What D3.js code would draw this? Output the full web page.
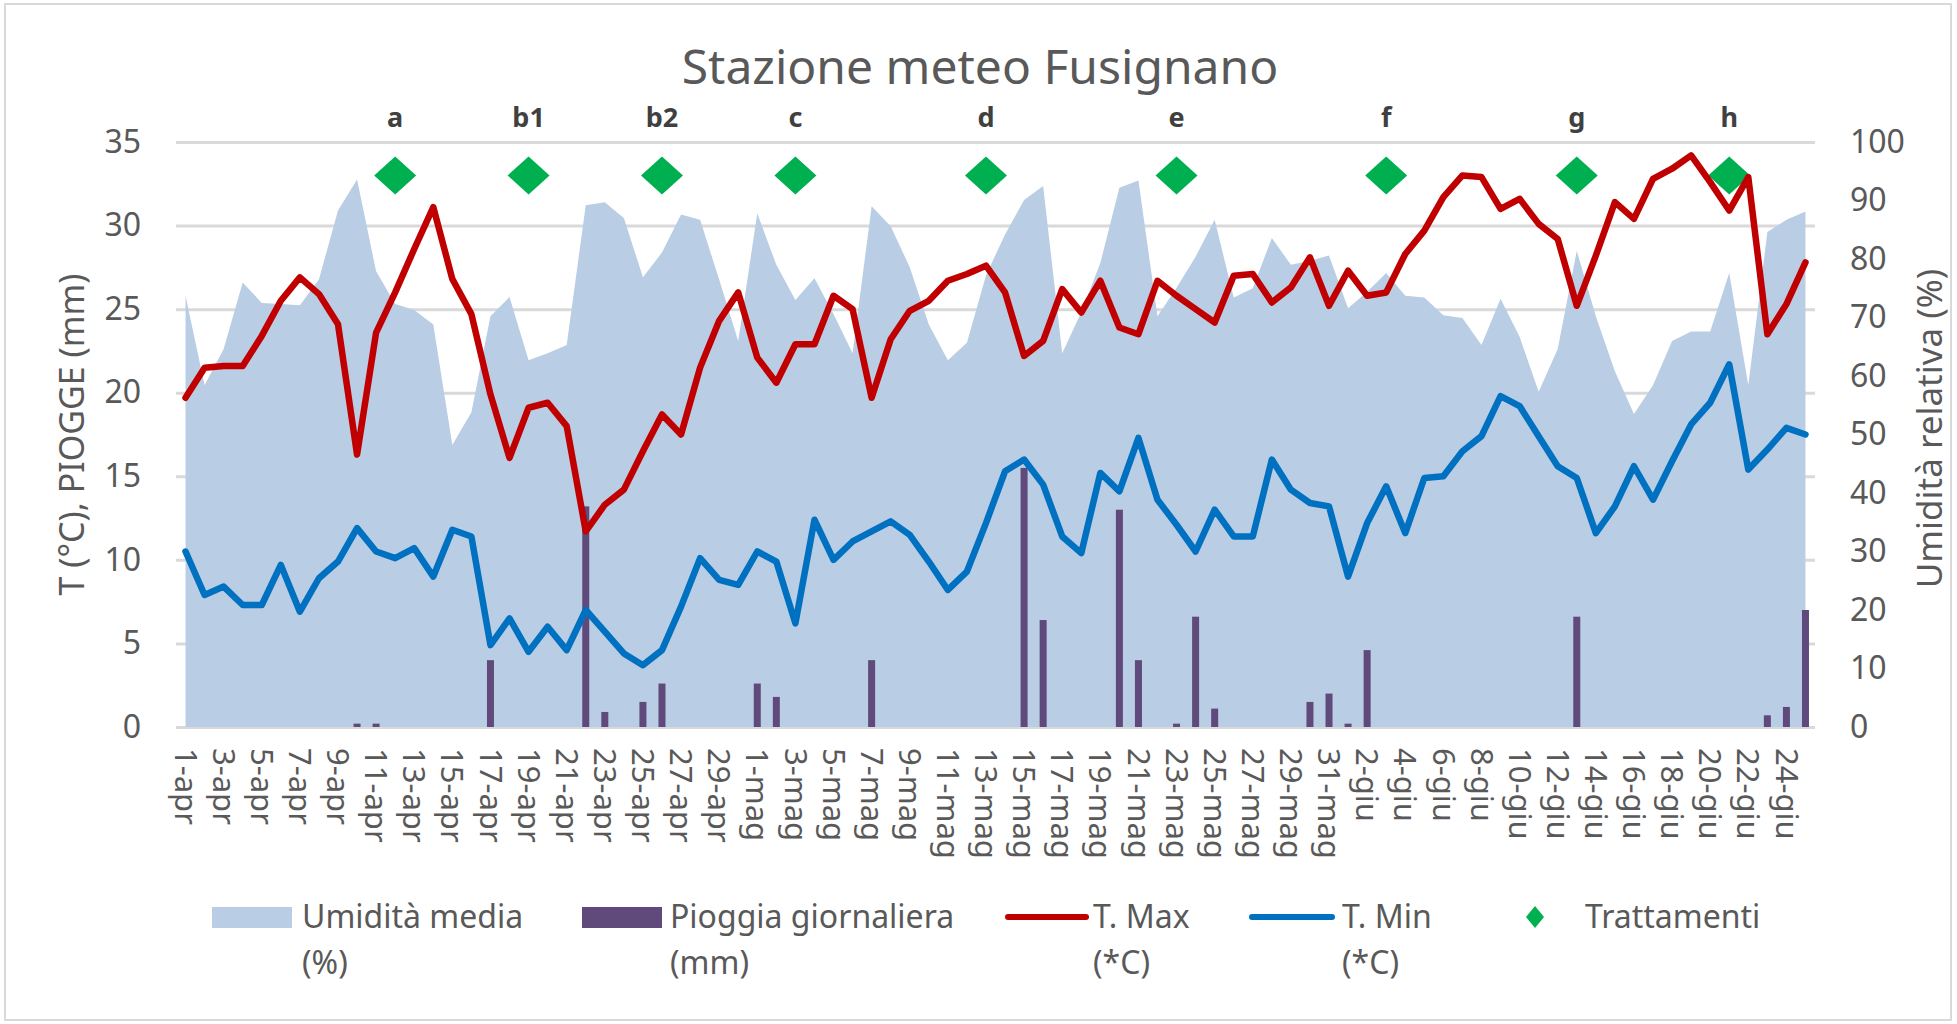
<!DOCTYPE html>
<html>
<head>
<meta charset="utf-8">
<script src="https://cdn.jsdelivr.net/npm/d3@7"></script>
<style>
  body { margin: 0; background: #fff; }
  svg text { font-family: "Noto Sans", sans-serif; }
</style>
</head>
<body>
<svg id="chart" width="1957" height="1024"></svg>
<script>
// categories (days)
const days = [
  '1-apr','2-apr','3-apr','4-apr','5-apr','6-apr','7-apr','8-apr','9-apr','10-apr',
  '11-apr','12-apr','13-apr','14-apr','15-apr','16-apr','17-apr','18-apr','19-apr','20-apr',
  '21-apr','22-apr','23-apr','24-apr','25-apr','26-apr','27-apr','28-apr','29-apr','30-apr',
  '1-mag','2-mag','3-mag','4-mag','5-mag','6-mag','7-mag','8-mag','9-mag','10-mag',
  '11-mag','12-mag','13-mag','14-mag','15-mag','16-mag','17-mag','18-mag','19-mag','20-mag',
  '21-mag','22-mag','23-mag','24-mag','25-mag','26-mag','27-mag','28-mag','29-mag','30-mag',
  '31-mag','1-giu','2-giu','3-giu','4-giu','5-giu','6-giu','7-giu','8-giu','9-giu',
  '10-giu','11-giu','12-giu','13-giu','14-giu','15-giu','16-giu','17-giu','18-giu','19-giu',
  '20-giu','21-giu','22-giu','23-giu','24-giu','25-giu'
];

const tMax = [
  19.7, 21.5, 21.6, 21.6, 23.4, 25.5, 26.9, 25.9, 24.1, 16.3,
  23.6, 26.0, 28.6, 31.1, 26.8, 24.7, 19.9, 16.1, 19.1, 19.4,
  18.0, 11.7, 13.3, 14.2, 16.5, 18.7, 17.5, 21.5, 24.3, 26.0,
  22.1, 20.6, 22.9, 22.9, 25.8, 25.0, 19.7, 23.2, 24.9, 25.5,
  26.7, 27.1, 27.6, 26.0, 22.2, 23.1, 26.2, 24.8, 26.7, 23.9,
  23.5, 26.7, 25.8, 25.0, 24.2, 27.0, 27.1, 25.4, 26.3, 28.1,
  25.2, 27.3, 25.8, 26.0, 28.3, 29.7, 31.7, 33.0, 32.9, 31.0,
  31.6, 30.1, 29.2, 25.2, 28.2, 31.4, 30.4, 32.8, 33.4, 34.2,
  32.6, 30.9, 32.9, 23.5, 25.3, 27.8
];

const tMin = [
  10.5, 7.9, 8.4, 7.3, 7.3, 9.7, 6.9, 8.9, 9.9, 11.9,
  10.5, 10.1, 10.7, 9.0, 11.8, 11.4, 4.9, 6.5, 4.5, 6.0,
  4.6, 7.0, 5.7, 4.4, 3.7, 4.6, 7.2, 10.1, 8.8, 8.5,
  10.5, 9.9, 6.2, 12.4, 10.0, 11.1, 11.7, 12.3, 11.5, 9.9,
  8.2, 9.3, 12.2, 15.3, 16.0, 14.5, 11.4, 10.4, 15.2, 14.1,
  17.3, 13.6, 12.1, 10.5, 13.0, 11.4, 11.4, 16.0, 14.2, 13.4,
  13.2, 9.0, 12.2, 14.4, 11.6, 14.9, 15.0, 16.5, 17.4, 19.8,
  19.2, 17.4, 15.6, 14.9, 11.6, 13.2, 15.6, 13.6, 15.9, 18.1,
  19.4, 21.7, 15.4, 16.6, 17.9, 17.5
];

const humidity = [
  73.7, 58.4, 64.6, 76.0, 72.5, 72.3, 72.1, 76.5, 88.3, 93.6,
  77.9, 72.3, 71.3, 68.8, 48.2, 53.8, 70.2, 73.5, 62.7, 63.9,
  65.3, 89.2, 89.7, 87.0, 76.9, 81.1, 87.6, 86.7, 76.5, 66.0,
  87.8, 79.0, 73.0, 76.7, 70.6, 63.9, 89.0, 85.6, 78.6, 68.8,
  62.7, 65.7, 77.2, 84.2, 90.1, 92.5, 63.9, 70.9, 79.3, 92.2,
  93.4, 70.2, 75.1, 80.4, 86.7, 73.4, 75.0, 83.6, 79.0, 79.7,
  80.6, 71.6, 74.4, 77.6, 73.7, 73.4, 70.4, 69.9, 65.3, 73.2,
  66.7, 57.3, 64.6, 81.4, 70.2, 60.8, 53.5, 58.4, 66.0, 67.6,
  67.6, 77.6, 58.4, 84.6, 86.7, 88.1
];

const rain = [
  0, 0, 0, 0, 0, 0, 0, 0, 0, 0.2,
  0.2, 0, 0, 0, 0, 0, 4.0, 0, 0, 0,
  0, 13.2, 0.9, 0, 1.5, 2.6, 0, 0, 0, 0,
  2.6, 1.8, 0, 0, 0, 0, 4.0, 0, 0, 0,
  0, 0, 0, 0, 15.5, 6.4, 0, 0, 0, 13.0,
  4.0, 0, 0.2, 6.6, 1.1, 0, 0, 0, 0, 1.5,
  2.0, 0.2, 4.6, 0, 0, 0, 0, 0, 0, 0,
  0, 0, 0, 6.6, 0, 0, 0, 0, 0, 0,
  0, 0, 0, 0.7, 1.2, 7.0
];

// treatments
const treatDays = ['12-apr', '19-apr', '26-apr', '3-mag', '13-mag', '23-mag', '3-giu', '13-giu', '21-giu'];
const treatLabels = ['a', 'b1', 'b2', 'c', 'd', 'e', 'f', 'g', 'h'];
const treatValue = 33;

const leftTicks = [0, 5, 10, 15, 20, 25, 30, 35];
const rightTicks = [0, 10, 20, 30, 40, 50, 60, 70, 80, 90, 100];

const svg = d3.select('#chart');
const margin = { top: 142, right: 142, bottom: 297, left: 176 };
const width = 1957 - margin.left - margin.right,
  height = 1024 - margin.top - margin.bottom;

// outer border
svg.append('rect')
  .attr('x', 5).attr('y', 4).attr('width', 1946).attr('height', 1016)
  .attr('fill', '#fff').attr('stroke', '#d9d9d9').attr('stroke-width', 2);

const graph = svg.append('g')
  .attr('transform', `translate(${margin.left},${margin.top})`);

const x = d3.scaleBand().domain(days).range([0, width]).padding(0);
const cx = d => x(d) + x.bandwidth() / 2;
const yL = d3.scaleLinear().domain([0, 35]).range([height, 0]);
const yR = d3.scaleLinear().domain([0, 100]).range([height, 0]);

// excel-like diamond (wider than d3's default)
const rhombus = (w, h) => ({
  draw(ctx) {
    ctx.moveTo(0, -h);
    ctx.lineTo(w, 0);
    ctx.lineTo(0, h);
    ctx.lineTo(-w, 0);
    ctx.closePath();
  }
});

// gridlines
graph.append('g')
  .call(d3.axisLeft(yL).tickValues(leftTicks).tickSize(-width).tickFormat(''))
  .call(g => g.select('.domain').remove())
  .call(g => g.selectAll('line').attr('stroke', '#d9d9d9').attr('stroke-width', 3));

// humidity area
const area = d3.area()
  .x((d, i) => cx(days[i]))
  .y0(height)
  .y1(d => yR(d));
graph.append('path')
  .datum(humidity)
  .attr('d', area)
  .attr('fill', '#b9cde5');

// rain bars
const barW = 7;
graph.selectAll('rect.rain')
  .data(rain)
  .enter()
  .append('rect')
  .attr('class', 'rain')
  .attr('x', (d, i) => cx(days[i]) - barW / 2)
  .attr('width', barW)
  .attr('y', d => yL(d))
  .attr('height', d => height - yL(d))
  .attr('fill', '#604a7b');

// treatments
graph.selectAll('path.treat')
  .data(treatDays)
  .enter()
  .append('path')
  .attr('class', 'treat')
  .attr('d', d3.symbol().type(rhombus(21, 19)))
  .attr('transform', d => `translate(${cx(d)},${yL(treatValue)})`)
  .attr('fill', '#00b050');

graph.selectAll('text.treat')
  .data(treatDays)
  .enter()
  .append('text')
  .attr('class', 'treat')
  .attr('x', d => cx(d))
  .attr('y', yL(treatValue) - 48)
  .attr('text-anchor', 'middle')
  .attr('font-size', 27)
  .attr('font-weight', 'bold')
  .attr('fill', '#404040')
  .text((d, i) => treatLabels[i]);

// temperature lines
const line = d3.line().x((d, i) => cx(days[i])).y(d => yL(d));
graph.append('path')
  .datum(tMax)
  .attr('d', line)
  .attr('fill', 'none')
  .attr('stroke', '#c00000')
  .attr('stroke-width', 6.5)
  .attr('stroke-linejoin', 'round')
  .attr('stroke-linecap', 'round');

graph.append('path')
  .datum(tMin)
  .attr('d', line)
  .attr('fill', 'none')
  .attr('stroke', '#0070c0')
  .attr('stroke-width', 6.5)
  .attr('stroke-linejoin', 'round')
  .attr('stroke-linecap', 'round');

// axes
const leftAxis = graph.append('g')
  .call(d3.axisLeft(yL).tickValues(leftTicks).tickSize(0).tickPadding(35))
  .call(g => g.select('.domain').remove());
leftAxis.selectAll('text').attr('font-size', 32).attr('fill', '#595959')
  .attr('font-family', '"Noto Sans", sans-serif');

const rightAxis = graph.append('g')
  .attr('transform', `translate(${width},0)`)
  .call(d3.axisRight(yR).tickValues(rightTicks).tickSize(0).tickPadding(35))
  .call(g => g.select('.domain').remove());
rightAxis.selectAll('text').attr('font-size', 32).attr('fill', '#595959')
  .attr('font-family', '"Noto Sans", sans-serif');

const xAxis = graph.append('g')
  .attr('transform', `translate(0,${height})`)
  .call(d3.axisBottom(x).tickValues(days.filter((d, i) => i % 2 === 0)).tickSize(0).tickPadding(0))
  .call(g => g.select('.domain').remove());
xAxis.selectAll('text')
  .attr('font-size', 31)
  .attr('fill', '#595959')
  .attr('font-family', '"Noto Sans", sans-serif')
  .attr('text-anchor', 'start')
  .attr('transform', 'translate(0,21) rotate(90)')
  .attr('x', 0)
  .attr('y', 0)
  .attr('dy', '0.35em');

// axis titles
svg.append('text')
  .attr('transform', `translate(72,${margin.top + height / 2}) rotate(-90)`)
  .attr('text-anchor', 'middle')
  .attr('dy', '0.35em')
  .attr('font-size', 34)
  .attr('fill', '#595959')
  .text('T (°C), PIOGGE (mm)');

svg.append('text')
  .attr('transform', `translate(1930,${margin.top + height / 2 - 6}) rotate(-90)`)
  .attr('text-anchor', 'middle')
  .attr('dy', '0.35em')
  .attr('font-size', 35)
  .attr('fill', '#595959')
  .text('Umidità relativa (%)');

// title
svg.append('text')
  .attr('x', 980)
  .attr('y', 84)
  .attr('text-anchor', 'middle')
  .attr('font-size', 48)
  .attr('fill', '#595959')
  .text('Stazione meteo Fusignano');

// legend
const legend = svg.append('g').attr('font-size', 32).attr('fill', '#595959');
const legY = 917;

legend.append('rect').attr('x', 212).attr('y', legY - 10).attr('width', 80).attr('height', 21).attr('fill', '#b9cde5');
legend.append('rect').attr('x', 582).attr('y', legY - 10).attr('width', 80).attr('height', 21).attr('fill', '#604a7b');
legend.append('line').attr('x1', 1008).attr('x2', 1086).attr('y1', legY).attr('y2', legY)
  .attr('stroke', '#c00000').attr('stroke-width', 6).attr('stroke-linecap', 'round');
legend.append('line').attr('x1', 1252).attr('x2', 1332).attr('y1', legY).attr('y2', legY)
  .attr('stroke', '#0070c0').attr('stroke-width', 6).attr('stroke-linecap', 'round');
legend.append('path').attr('d', d3.symbol().type(rhombus(9, 11)))
  .attr('transform', `translate(1535,${legY})`).attr('fill', '#00b050');

const legText = [
  { x: 302, lines: ['Umidità media', '(%)'] },
  { x: 670, lines: ['Pioggia giornaliera', '(mm)'] },
  { x: 1093, lines: ['T. Max', '(*C)'] },
  { x: 1342, lines: ['T. Min', '(*C)'] },
  { x: 1585, lines: ['Trattamenti'] }
];
legText.forEach(item => {
  const t = legend.append('text').attr('x', item.x).attr('y', legY + 11);
  item.lines.forEach((l, i) => {
    t.append('tspan').attr('x', item.x).attr('dy', i === 0 ? 0 : 46).text(l);
  });
});
</script>
</body>
</html>
